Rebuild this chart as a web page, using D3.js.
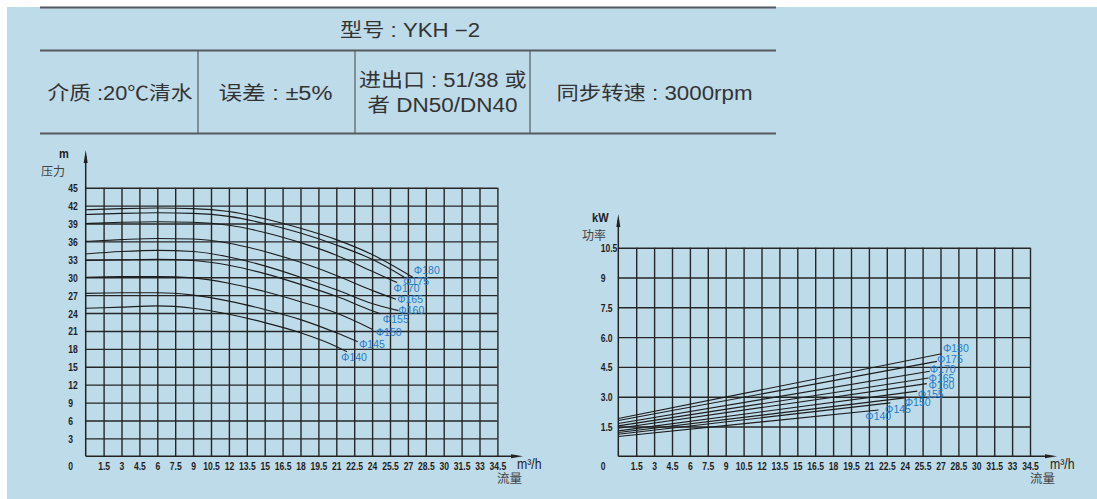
<!DOCTYPE html>
<html><head><meta charset="utf-8">
<script src="https://cdn.jsdelivr.net/npm/d3@7"></script>
<style>
html,body{margin:0;padding:0;background:#fff;}
svg{display:block;}
</style></head>
<body>
<svg id="c" width="1097" height="499"></svg>
<script>
// ---------------- data ----------------
const impellers = ["Φ180","Φ175","Φ170","Φ165","Φ160","Φ155","Φ150","Φ145","Φ140"];
const flowTickLabels = ["1.5","3","4.5","6","7.5","9","10.5","12","13.5","15","16.5","18","19.5","21","22.5","24","25.5","27","28.5","30","31.5","33","34.5"];
const flowTicks = [1.5,3,4.5,6,7.5,9,10.5,12,13.5,15,16.5,18,19.5,21,22.5,24,25.5,27,28.5,30,31.5,33,34.5];
const headTicks = [3,6,9,12,15,18,21,24,27,30,33,36,39,42,45];
const headTickLabels = ["3","6","9","12","15","18","21","24","27","30","33","36","39","42","45"];
const powerTicks = [1.5,3,4.5,6,7.5,9,10.5];
const powerTickLabels = ["1.5","3.0","4.5","6.0","7.5","9","10.5"];

// head curves  [flow m3/h, head m]
const head180 = [[0,41.3],[3,41.5],[6,41.6],[9,41.5],[12,41.0],[15,39.8],[18,38.2],[21,36.3],[24,33.8],[27.4,30.0]];
const head175 = [[0,40.5],[3,40.7],[6,40.8],[9,40.7],[12,40.2],[15,39.0],[18,37.4],[21,35.4],[24,33.0],[26.7,30.0]];
const head170 = [[0,39.0],[3,39.2],[6,39.3],[9,39.2],[12,38.7],[15,37.5],[18,35.8],[21,33.7],[24,31.0],[26.1,29.1]];
const head165 = [[0,36.0],[3,36.3],[6,36.5],[9,36.4],[12,35.7],[15,34.3],[18,32.5],[21,30.3],[24,27.8],[26.0,26.3]];
const head160 = [[0,33.9],[3,34.3],[6,34.5],[9,34.3],[12,33.4],[15,31.9],[18,30.0],[21,27.9],[24,25.6],[26.2,24.4]];
const head155 = [[0,32.8],[3,32.9],[6,33.0],[9,32.8],[12,32.0],[15,30.6],[18,28.8],[21,26.8],[24,24.4],[24.7,23.9]];
const head150 = [[0,30.0],[3,30.1],[6,30.1],[9,29.9],[12,29.0],[15,27.6],[18,25.9],[21,24.0],[24.0,21.3]];
const head145 = [[0,27.3],[3,27.4],[6,27.4],[9,27.0],[12,26.0],[15,24.6],[18,22.9],[21,20.7],[22.8,19.2]];
const head140 = [[0,24.8],[3,25.0],[6,25.2],[9,24.8],[12,23.8],[15,22.4],[18,20.7],[21,18.4],[21.9,17.5]];
const headCurves = [head180,head175,head170,head165,head160,head155,head150,head145,head140];
const headLabelAt = [[27.5,30.6],[26.6,28.7],[25.8,27.6],[26.1,25.6],[26.2,23.8],[24.9,22.3],[24.3,20.1],[22.9,18.1],[21.4,16.0]];

// power curves [flow m3/h, kW]
const power180 = [[0,1.90],[27.1,5.16]];
const power175 = [[0,1.80],[26.7,4.78]];
const power170 = [[0,1.65],[26.1,4.28]];
const power165 = [[0,1.53],[26.0,3.94]];
const power160 = [[0,1.41],[25.85,3.66]];
const power155 = [[0,1.28],[25.05,3.28]];
const power150 = [[0,1.20],[24.0,2.94]];
const power145 = [[0,1.11],[22.8,2.69]];
const power140 = [[0,1.00],[21.8,2.33]];
const powerCurves = [power180,power175,power170,power165,power160,power155,power150,power145,power140];
const powerLabelAt = [[27.2,5.26],[26.7,4.68],[26.1,4.21],[26.0,3.76],[26.0,3.38],[25.1,2.93],[24.0,2.54],[22.35,2.18],[20.7,1.81]];

// header texts
const titleText = "型号 : YKH −2";
const cellTexts = ["介质 :20℃清水","误差 : ±5%","进出口 : 51/38 或","者 DN50/DN40","同步转速 : 3000rpm"];

// ---------------- drawing ----------------
const svg = d3.select("#c");
const BG = "#bedbea", INK = "#333", GRID = "#262626", BLUE = "#1f7ccc";
const CJK = "'Liberation Sans','Noto Sans CJK SC',sans-serif";
const NUM = "'Liberation Sans Narrow','Liberation Sans',Arial,sans-serif";

svg.append("rect").attr("x",7).attr("y",7).attr("width",1090).attr("height",492).attr("fill",BG);

// header table
const hdr = svg.append("g");
[7.5,50.5,133.5].forEach(y=>hdr.append("line").attr("x1",40).attr("x2",776).attr("y1",y).attr("y2",y)
  .attr("stroke","#555b60").attr("stroke-width",1.8));
[198,355,530].forEach(x=>hdr.append("line").attr("x1",x).attr("x2",x).attr("y1",50.5).attr("y2",133.5)
  .attr("stroke","#555b60").attr("stroke-width",1.2));
function htext(t,x,y,len){
  hdr.append("text").attr("x",x).attr("y",y).text(t).attr("fill",INK)
    .attr("font-family",CJK).attr("font-size",19.5)
    .attr("textLength",len).attr("lengthAdjust","spacingAndGlyphs");
}
htext(titleText,340,37,140);
htext(cellTexts[0],47.5,100,145);
htext(cellTexts[1],218.5,100,114);
htext(cellTexts[2],359,87,167.5);
htext(cellTexts[3],367.5,112,150);
htext(cellTexts[4],556.5,100,196);

function chart(opt){
  const g = svg.append("g");
  const x = d3.scaleLinear().domain([0,34.5]).range([opt.x0,opt.x1]);
  const y = d3.scaleLinear().domain([0,opt.ymax]).range([456.3,opt.ytop]);
  const tickFont = sel => sel.attr("font-family",NUM).attr("font-weight","bold").attr("font-size",11).attr("fill","#1e1e1e");
  // grid via axes
  const gx = g.append("g").attr("transform",`translate(0,${y(0)})`)
    .call(d3.axisBottom(x).tickValues(flowTicks).tickSize(-(y(0)-y(opt.ymax))).tickFormat((d,i)=>flowTickLabels[i]));
  gx.select(".domain").remove();
  gx.selectAll(".tick line").attr("stroke",GRID).attr("stroke-width",1.4);
  gx.selectAll(".tick text").attr("y",0).attr("dy",0)
    .attr("transform","translate(0,14) scale(0.78,1)").call(tickFont);
  const gy = g.append("g").attr("transform",`translate(${x(0)},0)`)
    .call(d3.axisLeft(y).tickValues(opt.yticks).tickSize(-(x(34.5)-x(0))).tickFormat((d,i)=>opt.ylabels[i]));
  gy.select(".domain").remove();
  gy.selectAll(".tick line").attr("stroke",GRID).attr("stroke-width",1.4);
  gy.selectAll(".tick text").attr("x",0).attr("dy",0).attr("y",0)
    .attr("text-anchor","start")
    .attr("transform",`translate(${opt.ylabx-x(0)},4) scale(0.78,1)`).call(tickFont);
  // zero label
  g.append("text").attr("transform",`translate(${opt.ylabx},${y(0)+14}) scale(0.78,1)`).text("0").call(tickFont);
  // axes with arrows
  g.append("line").attr("x1",x(0)).attr("x2",x(0)).attr("y1",y(0)).attr("y2",opt.arrowTop+6)
    .attr("stroke","#222").attr("stroke-width",1.5);
  g.append("path").attr("d",`M${x(0)},${opt.arrowTop} L${x(0)-2},${opt.arrowTop+13} L${x(0)+2},${opt.arrowTop+13} Z`).attr("fill","#222");
  g.append("line").attr("x1",x(0)).attr("x2",opt.arrowRight-6).attr("y1",y(0)).attr("y2",y(0))
    .attr("stroke","#222").attr("stroke-width",1.5);
  g.append("path").attr("d",`M${opt.arrowRight},${y(0)} L${opt.arrowRight-12},${y(0)-2} L${opt.arrowRight-12},${y(0)+2} Z`).attr("fill","#222");
  // curves
  const line = d3.line().x(d=>x(d[0])).y(d=>y(d[1])).curve(d3.curveMonotoneX);
  g.append("g").selectAll("path").data(opt.curves).join("path")
    .attr("d",line).attr("fill","none").attr("stroke","#1c1c1c").attr("stroke-width",1.1);
  g.append("g").selectAll("text").data(opt.labels).join("text")
    .attr("x",d=>x(d[0])).attr("y",d=>y(d[1])).text((d,i)=>impellers[i])
    .attr("font-family","'Liberation Sans',Arial,sans-serif").attr("font-size",10.5).attr("fill",BLUE);
  // unit labels
  g.append("text").attr("transform",`translate(${opt.unitX},${y(0)+13}) scale(0.85,1)`).text("m³/h")
    .attr("font-family",NUM).attr("font-size",14.5).attr("fill","#222");
  g.append("text").attr("x",opt.unitX-20).attr("y",y(0)+27).text("流量")
    .attr("font-family",CJK).attr("font-size",12.5).attr("fill","#444");
  g.append("text").attr("transform",`translate(${opt.yunitX},${opt.arrowTop+8}) scale(0.85,1)`).text(opt.yunit)
    .attr("font-family",NUM).attr("font-weight","bold").attr("font-size",13).attr("fill","#222");
  g.append("text").attr("x",opt.ynameX).attr("y",opt.arrowTop+26).text(opt.yname)
    .attr("font-family",CJK).attr("font-size",12).attr("fill","#444");
}

chart({x0:85.7,x1:497.4,ymax:45,ytop:187.7,yticks:headTicks,ylabels:headTickLabels,ylabx:68.3,
  arrowTop:150,arrowRight:523,curves:headCurves,labels:headLabelAt,unitX:517,
  yunit:"m",yunitX:59,yname:"压力",ynameX:41});
chart({x0:618.3,x1:1030,ymax:10.5,ytop:247.7,yticks:powerTicks,ylabels:powerTickLabels,ylabx:600.7,
  arrowTop:214,arrowRight:1057,curves:powerCurves,labels:powerLabelAt,unitX:1050,
  yunit:"kW",yunitX:592,yname:"功率",ynameX:582});
</script>
</body></html>
